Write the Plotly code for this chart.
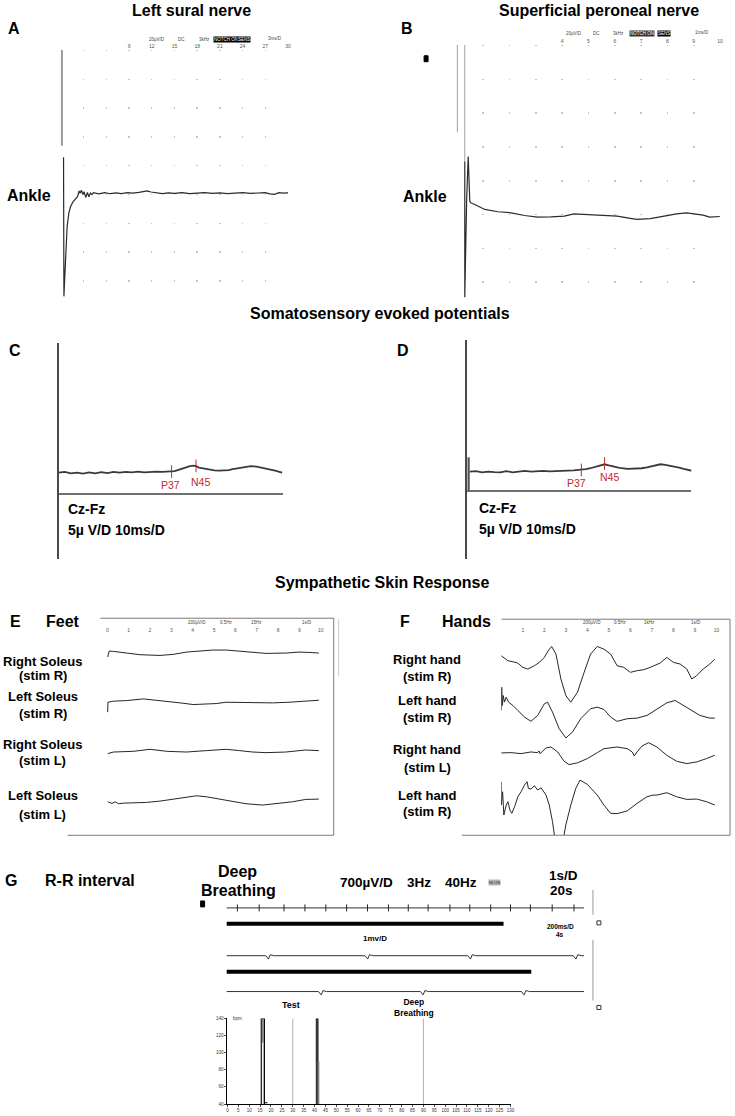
import plotly.graph_objects as go

W, H = 735, 1116
ARIAL = "Liberation Sans, Arial, Helvetica, sans-serif"
RED = "#c0282d"

# ================= DATA =================
# A: left sural nerve, ankle (time ms, amplitude uV)
A_T = [0.35, 0.40, 0.50, 0.62, 0.83, 1.05, 1.27, 1.6, 1.93, 2.2,
       2.4, 2.55, 2.7, 2.9, 3.05, 3.3, 3.5, 3.7, 3.9, 4.1,
       4.3, 5.0, 5.8, 6.5, 7.3, 8.0, 8.8, 9.5, 10.3, 11.0,
       11.4, 11.9, 12.6, 13.4, 14.2, 15.0, 16.0, 17.0, 18.0, 19.0,
       20, 21, 22, 23, 24, 25, 26, 27, 27.6, 28.2,
       28.8, 29.4, 30.0]
A_V = [25, -72, -60, -42, -23, -14, -9.5, -6, -4.4, -2.5,
       1.5, 0, 2, -1, 1, -3, 0.5, -2.5, 0, -1,
       0.3, -0.5, 0.3, -0.4, 0.2, -0.3, 0.4, 0, 0.5, 1.2,
       1.6, 0.8, 0.2, -0.3, 0.2, -0.2, 0.3, -0.3, 0, 0.3,
       -0.2, 0.2, -0.3, 0.1, 0.3, -0.2, 0.2, 0.3, -0.5, -0.8,
       0.4, 0, 0.2]
A_STIM_T = 0.1
A_STIM_V = [100, 33]
A_TICKS = [0, 3, 6, 9, 12, 15, 18, 21, 24, 27, 30]
A_TICKTEXT = ["", "", "", "9", "12", "15", "18", "21", "24", "27", "30"]

# B: superficial peroneal nerve, ankle (time ms, amplitude uV)
B_T = [0.30, 0.30, 0.37, 0.43, 0.49, 0.53, 0.68, 1.06, 1.56, 2.06,
       2.57, 3.07, 3.57, 4.08, 4.45, 5.08, 5.58, 6.09, 6.59, 6.84,
       7.35, 7.85, 8.35, 8.73, 9.10, 9.36, 9.60, 9.99]
B_V = [30.7, -50, 7.1, 33.6, 7.1, 6.1, 5.1, 2.2, 0.8, 0.2,
       -1.4, -2.4, -2.2, -1.8, -0.4, -0.8, -1.2, -1.8, -3.1, -3.7,
       -3.3, -1.8, -0.4, 0.2, -0.4, -1.2, -2.4, -2.0]
B_STIM_T = [0.0, 0.30]
B_STIM_TOP = 100
B_STIM_BOTTOM = [48, 30.7]
B_TICKS = [0, 1, 2, 3, 4, 5, 6, 7, 8, 9, 10]
B_TICKTEXT = ["", "", "", "", "4", "5", "6", "7", "8", "9", "10"]

# C / D: somatosensory evoked potentials Cz-Fz (time ms, amplitude uV)
C_T = [0, 2, 4, 6, 8, 10, 12, 14, 16, 18, 20, 22, 24, 26, 28, 30, 32, 34, 36,
       37, 38, 39, 40, 41, 42, 43, 44.3, 45, 46, 47, 48, 49.6, 51, 52.6, 54, 55.7,
       57, 58.7, 60, 61.8, 63, 64.8, 66, 67.9, 69, 70.9, 72, 73.2]
C_V = [0, 0.15, -0.15, 0, -0.2, 0.05, -0.15, 0.1, -0.1, 0.15, 0, 0.15, 0.05, 0.2, 0.05, 0.15, 0.2, 0.15, 0.25,
       0.2, 0.3, 0.5, 0.7, 0.9, 1.2, 1.3, 1.4, 1.3, 1.0, 0.9, 0.7, 0.5, 0.45, 0.4, 0.45, 0.5,
       0.7, 0.9, 1.1, 1.3, 1.3, 1.2, 1.05, 0.9, 0.7, 0.4, 0.2, 0]
D_T = [1, 3, 5, 7, 9, 11, 13, 15, 17, 19, 21, 23, 25, 27, 29, 31, 33, 35,
       37.5, 39, 40.5, 42, 43.6, 45.1, 46.5, 48.1, 50,
       52.7, 55, 57.3, 59, 60.3, 62, 63.4, 65, 66.4, 68,
       69.5, 71, 72.5, 74]
D_V = [0, 0.1, -0.15, 0, -0.1, -0.15, 0.1, -0.15, 0, 0.15, 0, 0.1, 0.15, 0.05, 0.15, 0.1, 0.2, 0.25,
       0.33, 0.5, 0.67, 0.95, 1.2, 1.47, 1.25, 1.0, 0.75,
       0.53, 0.55, 0.67, 0.85, 1.0, 1.25, 1.47, 1.35, 1.2, 1.0,
       0.8, 0.55, 0.35, 0.13]
D_STIM_T = 0.6
D_STIM_V = [2.9, -3.7]
PEAK_NAMES = ["P37", "N45"]
C_PEAK_T = [37, 45]
C_PEAK_V = [0.2, 1.35]
C_LABEL_T = [36.6, 46.5]
C_LABEL_V = [-2.5, -1.8]
D_PEAK_T = [37.5, 45.1]
D_PEAK_V = [0.33, 1.6]
D_LABEL_T = [35.9, 46.6]
D_LABEL_V = [-2.2, -1.0]

# E: sympathetic skin response, feet (time s, amplitude uV)
E_LABELS = [("Right Soleus", "(stim R)"), ("Left Soleus", "(stim R)"),
            ("Right Soleus", "(stim L)"), ("Left Soleus", "(stim L)")]
E1_T = [0.02, 0.09, 0.29, 0.91, 1.53, 2.47, 3.09, 3.71, 4.33, 4.95, 5.57, 6.19, 6.81, 7.43, 8.36, 8.98, 9.44, 9.91]
E1_V = [-71, 14, 10, -14, -38, -48, -33, 0, 19, 29, 29, 14, 0, -19, -14, 0, -5, -14]
E2_T = [0.02, 0.03, 0.29, 0.91, 1.69, 2.0, 2.31, 3.09, 3.55, 4.02, 4.64, 5.1, 5.57, 6.19, 6.81, 7.74, 8.51, 8.98, 9.44, 9.91]
E2_V = [-152, -10, 5, 14, 38, 29, 14, 0, -24, -43, -38, -29, -10, -14, -10, -19, -10, 0, 14, 19]
E3_T = [0.02, 0.29, 1.22, 2.0, 2.78, 3.71, 4.64, 5.57, 6.19, 6.81, 7.43, 8.36, 9.29, 9.91]
E3_V = [-33, -10, 0, 29, 0, -10, 10, 29, 10, -10, -19, -10, 19, 10]
E4_T = [0.02, 0.22, 0.37, 0.53, 0.76, 1.22, 1.84, 2.47, 3.4, 4.17, 4.64, 5.57, 6.5, 7.27, 8.05, 8.67, 9.29, 9.91]
E4_V = [-10, -33, -10, -38, -29, -29, -19, 0, 38, 76, 62, 10, -38, -57, -33, -10, 24, 29]
E_TICKS = list(range(0, 11))

# F: sympathetic skin response, hands (time s, amplitude uV)
F_LABELS = [("Right hand", "(stim R)"), ("Left hand", "(stim R)"),
            ("Right hand", "(stim L)"), ("Left hand", "(stim R)")]
F1_T = [0, 0.31, 0.54, 0.77, 1.0, 1.23, 1.54, 1.77, 2.0, 2.18,
        2.34, 2.54, 2.77, 3.0, 3.23, 3.54, 3.85, 4.15, 4.46, 4.77,
        5.08, 5.38, 5.69, 6.0, 6.31, 6.62, 6.92, 7.08, 7.38, 7.69,
        8.0, 8.31, 8.62, 8.85, 9.08, 9.38, 9.69, 9.92]
F1_V = [143, 71, 57, 38, -24, -48, 0, 48, 119, 214,
        276, 167, -190, -429, -524, -381, -95, 167, 276, 238,
        167, 0, -24, -95, -71, -57, -24, 0, 38, 119,
        48, 24, -48, -190, -143, -48, 24, 95]
F2_T = [0, 0.02, 0.05, 0.09, 0.15, 0.23, 0.34, 0.54, 0.77, 1.08,
        1.38, 1.69, 2.0, 2.15, 2.38, 2.69, 3.0, 3.31, 3.69, 4.15,
        4.46, 4.77, 5.08, 5.38, 5.85, 6.31, 6.77, 7.23, 7.69, 8.08,
        8.46, 8.92, 9.23, 9.69, 9.92]
F2_V = [24, 357, 95, 238, 143, 214, 143, 95, 24, -71,
        -133, -48, 119, 143, 0, -238, -371, -286, -95, 48,
        71, 38, -71, -133, -95, -86, -48, 48, 133, 167,
        95, 0, -48, -86, -86]
F3_T = [0, 0.46, 0.92, 1.38, 1.69, 1.75, 1.8, 2.08, 2.31, 2.62,
        2.92, 3.15, 3.54, 4.0, 4.46, 4.77, 5.38, 5.85, 6.08, 6.18,
        6.31, 6.54, 6.85, 7.23, 7.69, 8.15, 8.62, 9.08, 9.54, 9.92]
F3_V = [10, 14, 0, 24, 14, 40, 0, 81, 95, 24,
        -110, -157, -133, -71, 14, 71, 95, 71, 24, -33,
        24, 110, 157, 95, -24, -110, -143, -119, -71, -24]
F4_T = [0, 0.005, 0.06, 0.12, 0.23, 0.31, 0.4, 0.49, 0.62, 0.77,
        0.92, 1.08, 1.2, 1.26, 1.38, 1.54, 1.69, 1.85, 2.08, 2.23,
        2.38, 2.49, 2.89, 3.0, 3.23, 3.46, 3.66, 4.0, 4.46, 4.77,
        5.08, 5.38, 5.85, 6.31, 6.77, 7.05, 7.23, 7.69, 8.15, 8.62,
        9.08, 9.54, 9.92]
F4_V = [286, -48, 143, -190, -48, 0, -119, -167, -71, 71,
        143, 238, 286, 190, 181, 229, 167, 200, 95, -48,
        -286, -524, -524, -333, -48, 190, 310, 248, 95, -48,
        -167, -171, -133, -24, 71, 95, 95, 129, 71, 33,
        38, 0, -48]
F_TICKS = list(range(1, 11))

# G: R-R interval, deep breathing
G_TOP_PEAKS = [0.61, 1.83, 3.22, 4.39, 5.56, 6.72, 7.89, 9.06, 10.17, 11.28,
               12.5, 13.61, 14.78, 15.89, 17.0, 18.22, 19.44]            # s (1 s/D, 20 s)
G_BAR1_END = 15.5                                                        # s
G2_T = [0, 0.44, 0.47, 0.49, 0.53, 1.55, 1.58, 1.60, 1.64, 2.70, 2.73, 2.75, 2.79,
        3.88, 3.91, 3.93, 3.97, 4.0]                                     # s (200 ms/D, 4 s)
G2_V = [0, 0, -0.17, 0.05, 0, 0, -0.17, 0.05, 0, 0, -0.17, 0.05, 0,
        0, -0.17, 0.05, 0, 0]                                             # mV
G_BAR2_END = 3.41
G3_T = [0, 1.03, 1.06, 1.08, 1.12, 2.17, 2.2, 2.22, 2.26, 3.30, 3.33, 3.35, 3.39, 4.0]
G3_V = [0, 0, -0.17, 0.05, 0, 0, -0.17, 0.05, 0, 0, -0.17, 0.05, 0, 0]
RR_EVENTS = [30, 90]
RR_SPIKE1_X = [15.5, 15.5, 17.0, 17.0]
RR_SPIKE1_Y = [40, 140, 140, 40]
RR_SLIT_X = [16.2, 16.2]
RR_SLIT_Y = [40, 112]
RR_TAIL_X = [17.0, 18.4]
RR_TAIL_Y = [41.5, 41.5]
RR_SPIKE2_X = [40.8, 40.8, 41.6, 41.6]
RR_SPIKE2_Y = [40, 140, 140, 40]
RR_SPIKE2B_X = [41.6, 41.6, 42.0, 42.0]
RR_SPIKE2B_Y = [40, 90, 90, 40]
RR_YTICKS = [40, 60, 80, 100, 120, 140]


# ================= HELPERS =================
def xdom(a, b):
    return [a / W, b / W]


def ydom(top, bot):
    return [1 - bot / H, 1 - top / H]


def py(p):
    return 1 - p / H


fig = go.Figure()


def line(x, y, xa, ya, color="#2a2a2a", width=1.0, **kw):
    fig.add_trace(go.Scatter(x=x, y=y, xaxis=xa, yaxis=ya, mode="lines",
                             line=dict(color=color, width=width), hoverinfo="skip", **kw))


annotations = []


def txt(s, x, y, size, bold=True, color="black", xanchor="center", **kw):
    annotations.append(dict(text=f"<b>{s}</b>" if bold else s, x=x / W, y=py(y),
                            xref="paper", yref="paper", showarrow=False,
                            font=dict(size=size, family=ARIAL, color=color),
                            xanchor=xanchor, yanchor="middle", **kw))


def tiny(s, x, y, size=4.5, bg=None, color="#444"):
    d = dict(text=s, x=x / W, y=py(y), xref="paper", yref="paper", showarrow=False,
             font=dict(size=size, family=ARIAL, color=color), xanchor="center", yanchor="middle",
             borderpad=0)
    if bg:
        d["bgcolor"] = bg
    annotations.append(d)


def chan(base, top, bot, ppu):
    return dict(domain=ydom(top, bot), range=[(base - bot) / ppu, (base - top) / ppu], visible=False)


axes = {}

# ---------- Panel A ----------
line([A_STIM_T, A_STIM_T], A_STIM_V, "x", "y", color="#9a9a9a", width=2.5)
line(A_T, A_V, "x", "y", color="#2b2b2b", width=1.2)
axes["xaxis"] = dict(domain=xdom(60.3, 289), range=[0, 30], anchor="y", side="top",
                     tickmode="array", tickvals=A_TICKS, ticktext=A_TICKTEXT, ticks="",
                     tickfont=dict(size=5, color="#555", family=ARIAL),
                     showgrid=True, gridcolor="#c4c4c4", gridwidth=1.5, griddash="1.5px,27.3px",
                     zeroline=False, showline=False)
axes["yaxis"] = dict(domain=ydom(48, 300), range=[-75, 100], anchor="x", visible=False)

# ---------- Panel B ----------
for t, b in zip(B_STIM_T, B_STIM_BOTTOM):
    line([t, t], [B_STIM_TOP, b], "x2", "y2", color="#a0a0a0", width=2.0 if t == 0 else 1.0)
line(B_T, B_V, "x2", "y2", color="#2b2b2b", width=1.2)
axes["xaxis2"] = dict(domain=xdom(459, 724), range=[0, 10], anchor="y2", side="top",
                      tickmode="array", tickvals=B_TICKS, ticktext=B_TICKTEXT, ticks="",
                      tickfont=dict(size=5, color="#555", family=ARIAL),
                      showgrid=True, gridcolor="#c4c4c4", gridwidth=1.5, griddash="1.5px,32.3px",
                      zeroline=False, showline=False)
axes["yaxis2"] = dict(domain=ydom(43, 300), range=[-52, 100], anchor="x2", visible=False)

# ---------- Panel C / D ----------
SEP_PPU = 5.0
for xa, ya, T, V, pk_t, pk_v, lb_t, lb_v, x0, x1, top, base, xline in [
        ("x3", "y3", C_T, C_V, C_PEAK_T, C_PEAK_V, C_LABEL_T, C_LABEL_V, 58, 284, 343, 472.7, 494),
        ("x4", "y4", D_T, D_V, D_PEAK_T, D_PEAK_V, D_LABEL_T, D_LABEL_V, 469, 695, 340, 471.7, 491)]:
    line(T, V, xa, ya, color="#3a3a3a", width=1.8)
    fig.add_trace(go.Scatter(x=pk_t, y=pk_v, xaxis=xa, yaxis=ya, mode="markers", hoverinfo="skip",
                             marker=dict(symbol="line-ns", size=9, line=dict(color=RED, width=1))))
    for name, lt, lv in zip(PEAK_NAMES, lb_t, lb_v):
        annotations.append(dict(text=name, x=lt, y=lv, xref=xa, yref=ya, showarrow=False,
                                font=dict(size=10.5, family=ARIAL, color=RED),
                                xanchor="center", yanchor="middle"))
    n = xa[1:]
    axes["xaxis" + n] = dict(domain=xdom(x0, x1), range=[0, 73.5], anchor="free", position=py(xline),
                             showline=True, linecolor="#707070", linewidth=2, ticks="",
                             showticklabels=False, showgrid=False, zeroline=False)
    axes["yaxis" + n] = dict(domain=ydom(top, 560), range=[(base - 560) / SEP_PPU, (base - top) / SEP_PPU],
                             anchor=xa, showline=True, linecolor="#4a4a4a", linewidth=1.5, ticks="",
                             showticklabels=False, showgrid=False, zeroline=False)
line([D_STIM_T, D_STIM_T], D_STIM_V, "x4", "y4", color="#555", width=2.2)

# ---------- Panel E ----------
SSR_PPU = 0.07   # px per uV (200 uV/D)
E_BASES = [653, 702.7, 752.7, 802.7]
for i, (T, V) in enumerate([(E1_T, E1_V), (E2_T, E2_V), (E3_T, E3_V), (E4_T, E4_V)]):
    ya = f"y{5 + i}"
    line(T, V, "x5", ya, color="#262626", width=1.0)
    axes[f"yaxis{5 + i}"] = dict(chan(E_BASES[i], E_BASES[i] - 24, E_BASES[i] + 24, SSR_PPU), anchor="x5")
axes["xaxis5"] = dict(domain=xdom(100, 335), range=[(100 - 107) / 21.5, (335 - 107) / 21.5],
                      anchor="free", position=py(634), side="top", tickmode="array",
                      tickvals=E_TICKS, ticks="", tickfont=dict(size=5, color="#555", family=ARIAL),
                      showgrid=False, zeroline=False, showline=False)

# ---------- Panel F ----------
F_BASES = [666.7, 713.3, 755, 803.3]
F_BOXES = [(636, 706), (683, 743), (740, 770), (780, 836.7)]
for i, (T, V) in enumerate([(F1_T, F1_V), (F2_T, F2_V), (F3_T, F3_V), (F4_T, F4_V)]):
    ya = f"y{9 + i}"
    line(T, V, "x6", ya, color="#262626", width=1.0)
    axes[f"yaxis{9 + i}"] = dict(chan(F_BASES[i], F_BOXES[i][0], F_BOXES[i][1], SSR_PPU), anchor="x6")
axes["xaxis6"] = dict(domain=xdom(503.7, 734), range=[0, (734 - 503.7) / 21.67],
                      anchor="free", position=py(634), side="top", tickmode="array",
                      tickvals=F_TICKS, ticks="", tickfont=dict(size=5, color="#555", family=ARIAL),
                      showgrid=False, zeroline=False, showline=False)

# ---------- Panel G (traces) ----------
line([0, 20], [0, 0], "x7", "y13", color="#333", width=1.0)
fig.add_trace(go.Scatter(x=G_TOP_PEAKS, y=[0] * len(G_TOP_PEAKS), xaxis="x7", yaxis="y13", mode="markers",
                         hoverinfo="skip", marker=dict(symbol="line-ns", size=5, line=dict(color="#222", width=1))))
line([0, G_BAR1_END], [0, 0], "x7", "y14", color="black", width=4)
line(G2_T, G2_V, "x8", "y15", color="#333", width=1.0)
line([0, G_BAR2_END], [0, 0], "x8", "y16", color="black", width=4)
line(G3_T, G3_V, "x8", "y17", color="#333", width=1.0)
axes["xaxis7"] = dict(domain=xdom(227, 587), range=[0, 20], anchor="y13", visible=False)
axes["yaxis13"] = dict(domain=ydom(902, 918), range=[-1, 1], anchor="x7", visible=False)
axes["yaxis14"] = dict(domain=ydom(922, 930), range=[-1, 1], anchor="x7", visible=False)
axes["xaxis8"] = dict(domain=xdom(227, 587), range=[0, 4], anchor="y15", visible=False)
axes["yaxis15"] = dict(domain=ydom(948, 968), range=[-0.5, 0.5], anchor="x8", visible=False)
axes["yaxis16"] = dict(domain=ydom(970, 978), range=[-1, 1], anchor="x8", visible=False)
axes["yaxis17"] = dict(domain=ydom(984, 1004), range=[-0.5, 0.5], anchor="x8", visible=False)

# ---------- Panel G (R-R chart) ----------
fig.add_trace(go.Scatter(x=RR_SPIKE1_X, y=RR_SPIKE1_Y, xaxis="x9", yaxis="y18", mode="lines", fill="toself",
                         fillcolor="#8a8a8a", line=dict(color="black", width=1), hoverinfo="skip"))
line(RR_SLIT_X, RR_SLIT_Y, "x9", "y18", color="white", width=1.2)
line(RR_TAIL_X, RR_TAIL_Y, "x9", "y18", color="black", width=1.2)
fig.add_trace(go.Scatter(x=RR_SPIKE2_X, y=RR_SPIKE2_Y, xaxis="x9", yaxis="y18", mode="lines", fill="toself",
                         fillcolor="#444", line=dict(color="#222", width=1), hoverinfo="skip"))
fig.add_trace(go.Scatter(x=RR_SPIKE2B_X, y=RR_SPIKE2B_Y, xaxis="x9", yaxis="y18", mode="lines", fill="toself",
                         fillcolor="#9a9a9a", line=dict(color="#777", width=0.8), hoverinfo="skip"))
axes["xaxis9"] = dict(domain=xdom(228, 513), range=[0, 130], anchor="y18", showline=True, linecolor="black",
                      linewidth=1, ticks="outside", ticklen=2, tickwidth=0.7, tickcolor="black",
                      tick0=0, dtick=5, tickangle=0, tickfont=dict(size=4.5, color="#333", family=ARIAL),
                      showgrid=False, zeroline=False)
axes["yaxis18"] = dict(domain=ydom(1021, 1107), range=[40, 140], anchor="x9", showline=True, linecolor="black",
                       linewidth=1, ticks="outside", ticklen=2, tickwidth=0.7, tickcolor="black",
                       tickmode="array", tickvals=RR_YTICKS, tickfont=dict(size=4.5, color="#333", family=ARIAL),
                       showgrid=False, zeroline=False)

shapes = []
for e in RR_EVENTS:
    shapes.append(dict(type="line", xref="x9", yref="y18", x0=e, x1=e, y0=40, y1=140,
                       line=dict(color="#b0b0b0", width=1)))
annotations.append(dict(text="bpm", x=1.5, y=140, xref="x9", yref="y18", showarrow=False, xanchor="left",
                        yanchor="middle", font=dict(size=4.5, family=ARIAL, color="#333")))
annotations.append(dict(text="<b>Test</b>", x=RR_EVENTS[0], y=py(1008), xref="x9", yref="paper", showarrow=False,
                        font=dict(size=9, family=ARIAL, color="black"), xshift=-2, yanchor="middle"))
annotations.append(dict(text="<b>Deep<br>Breathing</b>", x=RR_EVENTS[1], y=py(1010), xref="x9", yref="paper",
                        showarrow=False, font=dict(size=8.5, family=ARIAL, color="black"), xshift=-9,
                        yanchor="middle"))


# ---------- decorative frames (paper) ----------
def pline(x0, y0, x1, y1, color="#7a7a7a", width=1):
    shapes.append(dict(type="line", xref="paper", yref="paper", x0=x0 / W, x1=x1 / W, y0=py(y0), y1=py(y1),
                       line=dict(color=color, width=width)))


def prect(x0, y0, x1, y1, fill=None, color="black", width=1):
    shapes.append(dict(type="rect", xref="paper", yref="paper", x0=x0 / W, x1=x1 / W, y0=py(y1), y1=py(y0),
                       line=dict(color=color, width=width), fillcolor=fill if fill else "rgba(0,0,0,0)"))


# E frame
pline(100, 619, 335, 619)
pline(335, 619, 335, 837)
pline(67, 837, 335, 837)
pline(340, 620, 340, 677, color="#c8c8c8")
# F frame
pline(504, 620, 734, 620)
pline(734, 620, 734, 837)
pline(464, 837, 734, 837)
# icons
prect(426, 54, 430, 60, fill="black")
prect(201, 903, 205, 909, fill="black")
# G right bracket
pline(596, 892, 596, 917, color="#999")
pline(596, 942, 596, 1003, color="#999")
prect(600, 923, 604, 927, color="#333", width=1)
prect(600, 1008, 604, 1012, color="#333", width=1)

# ---------- text ----------
txt("Left sural nerve", 192, 9, 16)
txt("Superficial peroneal nerve", 602, 9, 16)
txt("A", 13, 27, 16)
txt("B", 409, 27, 16)
txt("Ankle", 28, 194, 16)
txt("Ankle", 427, 195, 16)
for (s, x, y) in [("20µV/D", 157, 38), ("DC", 182, 38), ("3kHz", 205, 38), ("3ms/D", 276, 37)]:
    tiny(s, x, y)
tiny("NOTCH ON", 227, 38, bg="black", color="white")
tiny("SENS", 245, 38, bg="black", color="white")
for (s, x, y) in [("20µV/D", 577, 32), ("DC", 600, 32), ("3kHz", 622, 32), ("1ms/D", 706, 31)]:
    tiny(s, x, y)
tiny("NOTCH ON", 645, 32, bg="#333", color="white")
tiny("SENS", 668, 32, bg="black", color="white")

txt("Somatosensory evoked potentials", 382, 313, 16)
txt("C", 14, 350, 16)
txt("D", 405, 350, 16)
txt("Cz-Fz", 65, 509, 14, xanchor="left")
txt("5µ V/D 10ms/D", 65, 530, 14, xanchor="left")
txt("Cz-Fz", 479, 508, 14, xanchor="left")
txt("5µ V/D 10ms/D", 479, 529, 14, xanchor="left")

txt("Sympathetic Skin Response", 384, 583, 16)
txt("E", 15, 622, 16)
txt("Feet", 62, 622, 16)
txt("F", 407, 622, 16)
txt("Hands", 469, 622, 16)
for (s, x) in [("200µV/D", 197), ("0.5Hz", 227), ("15Hz", 257), ("1s/D", 308)]:
    tiny(s, x, 623)
for (s, x) in [("200µV/D", 595), ("0.5Hz", 624), ("1kHz", 653), ("1s/D", 700)]:
    tiny(s, x, 623)
E_LABEL_Y = [(662, 677), (698, 715), (746, 762), (797, 816)]
for (l1, l2), (y1, y2) in zip(E_LABELS, E_LABEL_Y):
    txt(l1, 42, y1, 13)
    txt(l2, 42, y2, 13)
F_LABEL_Y = [(660, 678), (702, 719), (751, 769), (797, 813)]
for (l1, l2), (y1, y2) in zip(F_LABELS, F_LABEL_Y):
    txt(l1, 429, y1, 13)
    txt(l2, 429, y2, 13)

txt("G", 10, 882, 16)
txt("R-R interval", 42, 882, 16, xanchor="left")
txt("Deep", 238, 873, 16)
txt("Breathing", 239, 893, 16)
txt("700µV/D", 368, 884, 13.5)
txt("3Hz", 421, 884, 13.5)
txt("40Hz", 463, 884, 13.5)
tiny("HI ON", 497, 884, size=4, bg="#b5b5b5", color="#222")
txt("1s/D", 566, 877, 13.5)
txt("20s", 564, 893, 13.5)
txt("200ms/D", 563, 929, 6.5)
txt("4s", 563, 937, 6.5)
txt("1mv/D", 377, 941, 8)

fig.update_layout(**axes)
fig.update_layout(width=W, height=H, margin=dict(l=0, r=0, t=0, b=0), paper_bgcolor="white",
                  plot_bgcolor="rgba(0,0,0,0)", showlegend=False, hovermode=False,
                  annotations=annotations, shapes=shapes)

fig.write_html("out.html", config={"displayModeBar": False, "staticPlot": True},
               post_script="document.body.style.margin='0';document.body.style.overflow='hidden';")
